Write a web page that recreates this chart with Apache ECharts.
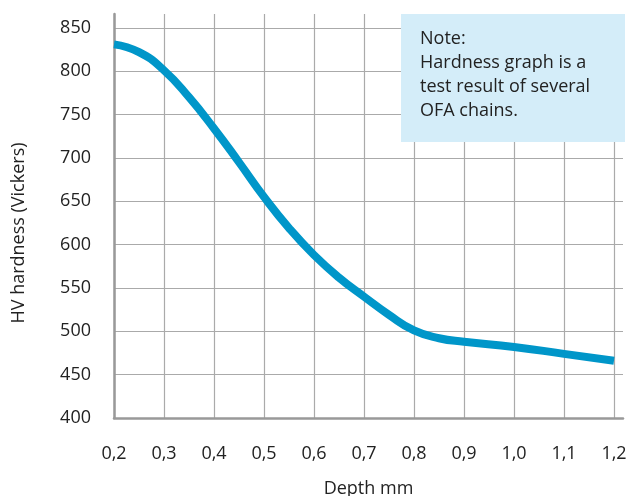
<!DOCTYPE html>
<html>
<head>
<meta charset="utf-8">
<script src="https://cdn.jsdelivr.net/npm/echarts@6/dist/echarts.min.js"></script>
<style>html,body{margin:0;padding:0;background:#fff}#c{width:630px;height:496px}</style>
</head>
<body>
<div id="c"></div>
<script>
const depth = [0.2, 0.25, 0.3, 0.35, 0.4, 0.45, 0.5, 0.55, 0.6, 0.65, 0.7, 0.75, 0.8, 0.85, 0.9, 1.0, 1.1, 1.2];
const hardness = [831, 822, 801, 770, 734, 695, 655, 619, 588, 562, 540, 519, 501, 492, 488, 482, 474, 466];
const noteLines = ['Note:', 'Hardness graph is a', 'test result of several', 'OFA chains.'];
const xTitle = 'Depth mm';
const yTitle = 'HV hardness (Vickers)';

const font = '"Open Sans", Lato, sans-serif';
const chart = echarts.init(document.getElementById('c'));
chart.setOption({
  animation: false,
  grid: { left: 114, right: 7, top: 14, bottom: 78, outerBoundsMode: 'none', containLabel: false },
  xAxis: {
    type: 'value', min: 0.2, max: 1.218, interval: 0.1,
    name: xTitle, nameLocation: 'middle', nameGap: 62,
    nameTextStyle: { fontFamily: font, fontSize: 18, color: '#222' },
    axisLine: { show: true, lineStyle: { color: '#999', width: 2.5 } },
    axisTick: { show: false },
    axisLabel: { fontFamily: font, fontSize: 18, color: '#222', margin: 27, showMaxLabel: false,
      formatter: v => v.toFixed(1).replace('.', ',') },
    splitLine: { show: true, showMaxLine: false, lineStyle: { color: '#aaa', width: 1.2 } }
  },
  yAxis: {
    type: 'value', min: 400, max: 866, interval: 50,
    name: yTitle, nameLocation: 'middle', nameGap: 86, nameRotate: 90,
    nameTextStyle: { fontFamily: font, fontSize: 18, color: '#222', padding: [0, 34, 0, 0] },
    axisLine: { show: true, lineStyle: { color: '#999', width: 2.5 } },
    axisTick: { show: false },
    axisLabel: { fontFamily: font, fontSize: 18, color: '#222', margin: 23, showMaxLabel: false },
    splitLine: { show: true, showMaxLine: false, lineStyle: { color: '#aaa', width: 1.2 } }
  },
  series: [{
    type: 'line', smooth: 0.5, symbol: 'none',
    lineStyle: { color: '#0096C9', width: 8, cap: 'butt' },
    data: depth.map((d, i) => [d, hardness[i]]),
    z: 3
  }],
  graphic: [{
    type: 'group', right: 5, top: 14, z: 100,
    children: [
      { type: 'rect', z: 100, shape: { x: 0, y: 0, width: 224, height: 128 }, style: { fill: '#D4EDF9' } },
      { type: 'text', z: 101, x: 19, y: 13, style: { text: noteLines.join('\n'), font: '18px ' + font, fill: '#222', lineHeight: 24 } }
    ]
  }]
});
</script>
</body>
</html>
